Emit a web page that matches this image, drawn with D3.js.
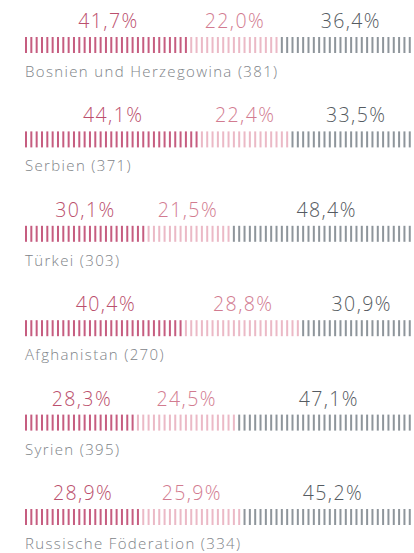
<!DOCTYPE html>
<meta charset="utf-8">
<style>
body { margin: 0; background: #fff; overflow: hidden; }
.pct { font-family: "Open Sans", sans-serif; font-weight: 300; font-size: 19.5px; letter-spacing: 1.4px; }
.cat { font-family: "Open Sans", sans-serif; font-weight: 300; font-size: 15px; fill: #7e8388; letter-spacing: 1.35px; }
</style>
<body>
<script src="https://cdn.jsdelivr.net/npm/d3@7"></script>
<script>

var countries = ["Bosnien und Herzegowina (381)", "Serbien (371)", "Türkei (303)",
                 "Afghanistan (270)", "Syrien (395)", "Russische Föderation (334)"];
var stark = [41.7, 44.1, 30.1, 40.4, 28.3, 28.9];
var etwas = [22.0, 22.4, 21.5, 28.8, 24.5, 25.9];
var kaum  = [36.4, 33.5, 48.4, 30.9, 47.1, 45.2];

var width = 414, height = 553;
var rowH = 94.4, pitch = 5.33, stripeW = 2;

var barColors = ["#c65d80", "#ebb9c6", "#8e959b"];
var textColors = ["#bb4f6d", "#d27b90", "#555b61"];

var x = d3.scaleLinear().domain([0, 100]).range([25, 422]);

var svg = d3.select("body").append("svg")
    .attr("width", width)
    .attr("height", height);

var rows = countries.map(function(c, i) {
  var vals = [stark[i], etwas[i], kaum[i]];
  var start = 0;
  var segs = vals.map(function(v, j) {
    var s = {v: v, x0: start, x1: start + v, j: j};
    start += v;
    return s;
  });
  return {name: c, segs: segs};
});

var g = svg.selectAll("g.row")
    .data(rows)
  .enter().append("g")
    .attr("class", "row")
    .attr("transform", function(d, i) { return "translate(0," + (i * rowH) + ")"; });

// stripes, colored by the segment they fall in
var stripes = d3.range(x(0), width, pitch);
g.selectAll("rect.stripe")
    .data(function(d) {
      return stripes.map(function(sx) {
        var v = x.invert(sx + stripeW / 2);
        var seg = d.segs.find(function(s) { return v >= s.x0 && v < s.x1; }) || d.segs[2];
        return {x: sx, j: seg.j};
      });
    })
  .enter().append("rect")
    .attr("class", "stripe")
    .attr("x", function(d) { return d.x; })
    .attr("y", 37)
    .attr("width", stripeW)
    .attr("height", 16)
    .attr("fill", function(d) { return barColors[d.j]; });

g.selectAll("text.pct")
    .data(function(d) { return d.segs; })
  .enter().append("text")
    .attr("class", "pct")
    .attr("x", function(d) { return (x(d.x0) + x(d.x1)) / 2 + 0.7; })
    .attr("y", 28)
    .attr("text-anchor", "middle")
    .attr("fill", function(d) { return textColors[d.j]; })
    .text(function(d) { return d.v.toFixed(1).replace(".", ",") + "%"; });

g.append("text")
    .attr("class", "cat")
    .attr("x", 25)
    .attr("y", 77)
    .text(function(d) { return d.name; });

</script>
